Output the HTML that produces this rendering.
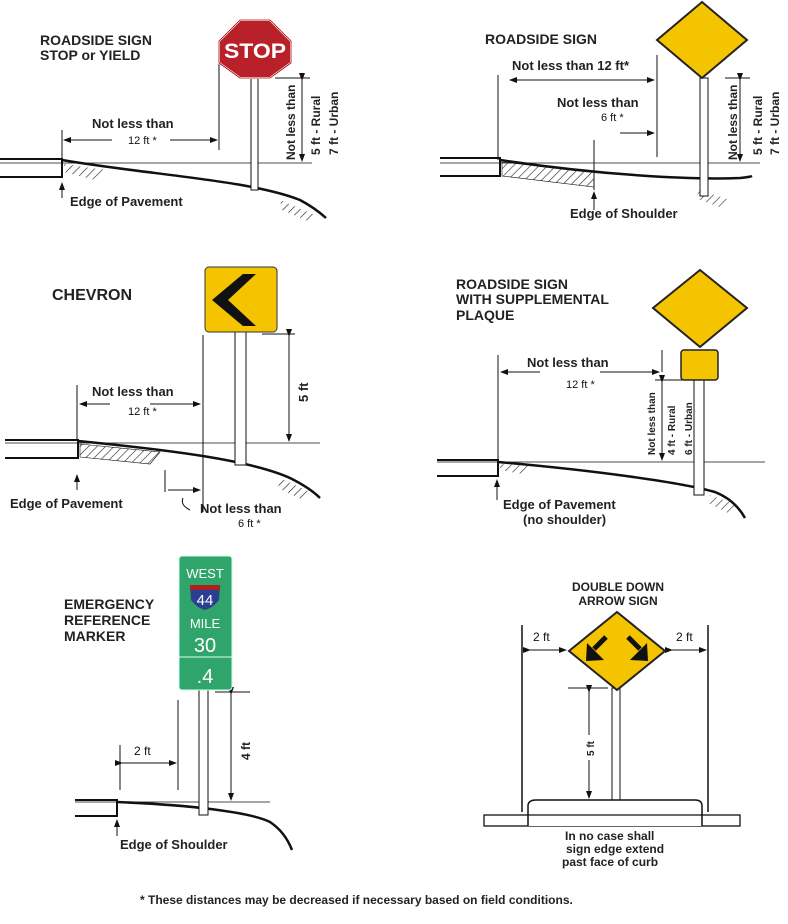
<!DOCTYPE html>
<html><head><meta charset="utf-8"><style>
html,body{margin:0;padding:0;background:#fff;}
svg{display:block;}
.t{font-family:"Liberation Sans",Arial,sans-serif;font-weight:bold;fill:#222;}
.n{font-family:"Liberation Sans",Arial,sans-serif;fill:#111;}
</style></head><body>
<svg width="788" height="924" viewBox="0 0 788 924" xmlns="http://www.w3.org/2000/svg">
<defs>
<marker id="a" markerWidth="8" markerHeight="6" refX="7" refY="3" orient="auto"><path d="M0,0 L8,3 L0,6 z" fill="#111"/></marker>
<pattern id="h" width="6" height="6" patternUnits="userSpaceOnUse" patternTransform="rotate(45)"><line x1="0" y1="0" x2="0" y2="6" stroke="#222" stroke-width="1.2"/></pattern>
</defs>
<g stroke="#111" fill="none" stroke-width="1">

<!-- PANEL 1 -->
<line x1="0" y1="163" x2="312" y2="163" stroke-width="0.8"/>
<path d="M0,159 L62,159 L62,177 L0,177" stroke-width="2"/>
<path d="M62,160 C150,175 250,180 300,200 Q315,208 326,218" stroke-width="2.5"/>
<path d="M64,164 L105,170 L95,180 L64,172z" fill="url(#h)" stroke="none"/>
<path d="M280,200 L315,215 L310,222 L282,210z" fill="url(#h)" stroke="none"/>
<line x1="62" y1="130" x2="62" y2="160"/>
<line x1="219" y1="63" x2="219" y2="150"/>
<line x1="112" y1="140" x2="64" y2="140" marker-end="url(#a)"/>
<line x1="170" y1="140" x2="217" y2="140" marker-end="url(#a)"/>
<rect x="251" y="78" width="7" height="112" fill="#fff"/>
<line x1="275" y1="78" x2="310" y2="78"/>
<line x1="302" y1="80" x2="302" y2="161" marker-start="url(#a)" marker-end="url(#a)"/>
<line x1="62" y1="198" x2="62" y2="183" marker-end="url(#a)"/>

<!-- PANEL 2 -->
<line x1="440" y1="163" x2="760" y2="163" stroke-width="0.8"/>
<path d="M440,158 L500,158 L500,176 L440,176" stroke-width="2"/>
<path d="M500,160 C600,175 690,180 740,178 Q750,177 752,176" stroke-width="2.5"/>
<path d="M502,162 L594,172 L594,187 L502,176z" fill="url(#h)" stroke="#111" stroke-width="0.6"/>
<path d="M700,190 L730,200 L722,208 L695,198z" fill="url(#h)" stroke="none"/>
<line x1="498" y1="75" x2="498" y2="160"/>
<line x1="657" y1="55" x2="657" y2="157"/>
<line x1="594" y1="140" x2="594" y2="190"/>
<line x1="600" y1="80" x2="510" y2="80" marker-end="url(#a)"/>
<line x1="600" y1="80" x2="654" y2="80" marker-end="url(#a)"/>
<line x1="620" y1="133" x2="654" y2="133" marker-end="url(#a)"/>
<rect x="700" y="78" width="8" height="118" fill="#fff"/>
<line x1="725" y1="78" x2="750" y2="78"/>
<line x1="740" y1="80" x2="740" y2="161" marker-start="url(#a)" marker-end="url(#a)"/>
<line x1="594" y1="210" x2="594" y2="192" marker-end="url(#a)"/>

<!-- PANEL 3 -->
<line x1="5" y1="443" x2="320" y2="443" stroke-width="0.8"/>
<path d="M5,440 L78,440 L78,458 L5,458" stroke-width="2"/>
<path d="M78,441 C170,450 250,460 290,478 Q310,488 320,498" stroke-width="2.5"/>
<path d="M80,444 L160,452 L150,464 L80,457z" fill="url(#h)" stroke="#111" stroke-width="0.6"/>
<path d="M280,478 L310,492 L303,500 L278,488z" fill="url(#h)" stroke="none"/>
<line x1="77" y1="385" x2="77" y2="440"/>
<line x1="203" y1="335" x2="203" y2="512"/>
<line x1="110" y1="404" x2="80" y2="404" marker-end="url(#a)"/>
<line x1="150" y1="404" x2="200" y2="404" marker-end="url(#a)"/>
<rect x="235" y="332" width="11" height="133" fill="#fff"/>
<line x1="262" y1="334" x2="295" y2="334"/>
<line x1="289" y1="336" x2="289" y2="441" marker-start="url(#a)" marker-end="url(#a)"/>
<line x1="165" y1="470" x2="165" y2="492"/>
<line x1="168" y1="490" x2="200" y2="490" marker-end="url(#a)"/>
<line x1="77" y1="490" x2="77" y2="475" marker-end="url(#a)"/>
<path d="M190,510 Q180,505 183,498" />

<!-- PANEL 4 -->
<line x1="437" y1="462" x2="765" y2="462" stroke-width="0.8"/>
<path d="M437,460 L498,460 L498,476 L437,476" stroke-width="2"/>
<path d="M498,462 C590,470 680,482 715,492 Q735,500 745,518" stroke-width="2.5"/>
<path d="M500,464 L530,466 L522,474 L500,470z" fill="url(#h)" stroke="none"/>
<path d="M710,495 L738,505 L732,515 L708,503z" fill="url(#h)" stroke="none"/>
<line x1="498" y1="355" x2="498" y2="460"/>
<line x1="662" y1="350" x2="662" y2="372"/>
<line x1="540" y1="372" x2="501" y2="372" marker-end="url(#a)"/>
<line x1="600" y1="372" x2="659" y2="372" marker-end="url(#a)"/>
<rect x="694" y="380" width="10" height="115" fill="#fff"/>
<line x1="655" y1="380" x2="690" y2="380"/>
<line x1="662" y1="382" x2="662" y2="460" marker-start="url(#a)" marker-end="url(#a)"/>
<line x1="497" y1="500" x2="497" y2="480" marker-end="url(#a)"/>

<!-- PANEL 5 -->
<line x1="75" y1="802" x2="270" y2="802" stroke-width="0.8"/>
<path d="M75,800 L117,800 L117,816 L75,816" stroke-width="2"/>
<path d="M117,802 C190,805 250,812 270,822 Q285,832 292,850" stroke-width="2.5"/>
<line x1="120" y1="745" x2="120" y2="790"/>
<line x1="178" y1="700" x2="178" y2="790"/>
<line x1="122" y1="763" x2="176" y2="763" marker-start="url(#a)" marker-end="url(#a)"/>
<rect x="199" y="690" width="9" height="125" fill="#fff"/>
<line x1="215" y1="692" x2="250" y2="692"/>
<line x1="231" y1="694" x2="231" y2="800" marker-start="url(#a)" marker-end="url(#a)"/>
<line x1="117" y1="836" x2="117" y2="820" marker-end="url(#a)"/>

<!-- PANEL 6 -->
<line x1="522" y1="625" x2="522" y2="812" stroke-width="1.5"/>
<line x1="708" y1="625" x2="708" y2="812" stroke-width="1.5"/>
<line x1="530" y1="650" x2="566" y2="650" marker-start="url(#a)" marker-end="url(#a)"/>
<line x1="672" y1="650" x2="706" y2="650" marker-start="url(#a)" marker-end="url(#a)"/>
<rect x="612" y="688" width="8" height="112" fill="#fff"/>
<line x1="568" y1="688" x2="608" y2="688"/>
<line x1="589" y1="692" x2="589" y2="735" marker-start="url(#a)"/>
<line x1="589" y1="760" x2="589" y2="798" marker-end="url(#a)"/>
<rect x="484" y="815" width="256" height="11" stroke-width="1.3"/>
<path d="M528,826 L528,806 Q528,800 536,800 L695,800 Q702,800 702,806 L702,826" fill="#fff" stroke-width="1.5"/>
<line x1="528" y1="815" x2="702" y2="815" stroke-width="1.2"/>
</g>

<!-- signs -->
<polygon points="240,20 270,20 291,41 291,63 270,78 240,78 219,63 219,41" fill="#b8202a" stroke="#fff" stroke-width="2"/>
<polygon points="240,20 270,20 291,41 291,63 270,78 240,78 219,63 219,41" fill="none" stroke="#a00" stroke-width="0.8"/>
<text x="255" y="58" class="n" font-size="21" font-weight="bold" text-anchor="middle" style="fill:#fff" textLength="62" lengthAdjust="spacingAndGlyphs">STOP</text>

<polygon points="702,2 747,40 702,78 657,40" fill="#f5c400" stroke="#222" stroke-width="2"/>
<rect x="205" y="267" width="72" height="65" rx="4" fill="#f5c400" stroke="#333" stroke-width="1"/>
<polygon points="243,274 256,274 228,300 256,326 243,326 212,300" fill="#111"/>
<polygon points="700,270 747,308 700,347 653,308" fill="#f5c400" stroke="#222" stroke-width="2"/>
<rect x="681" y="350" width="37" height="30" rx="3" fill="#f5c400" stroke="#222" stroke-width="1.5"/>

<rect x="179" y="556" width="53" height="134" rx="3" fill="#2fa56b" stroke="#cfe" stroke-width="1"/>
<line x1="179" y1="657" x2="232" y2="657" stroke="#dfe" stroke-width="1"/>
<text x="205" y="578" class="n" font-size="13" text-anchor="middle" style="fill:#fff">WEST</text>
<path d="M190,585 L220,585 L219,600 Q213,608 205,610 Q197,608 191,600z" fill="#2a3f8f"/>
<rect x="190" y="585" width="30" height="5" fill="#b02020"/>
<text x="205" y="605" class="n" font-size="15" text-anchor="middle" style="fill:#fff">44</text>
<text x="205" y="628" class="n" font-size="13" text-anchor="middle" style="fill:#fff">MILE</text>
<text x="205" y="652" class="n" font-size="20" text-anchor="middle" style="fill:#fff">30</text>
<text x="205" y="683" class="n" font-size="20" text-anchor="middle" style="fill:#fff">.4</text>

<polygon points="617,612 665,651 617,690 569,651" fill="#f5c400" stroke="#222" stroke-width="2"/>
<path d="M606,637 L594,649" stroke="#111" stroke-width="5"/>
<path d="M586,661 L587,643 L604,660z" fill="#111"/>
<path d="M628,637 L640,649" stroke="#111" stroke-width="5"/>
<path d="M648,661 L647,643 L630,660z" fill="#111"/>

<!-- text -->
<g class="t" font-size="14">
<text x="40" y="45">ROADSIDE SIGN</text>
<text x="40" y="60">STOP or YIELD</text>
<text x="92" y="128" font-size="13">Not less than</text>
<text x="70" y="206" font-size="13">Edge of Pavement</text>
<text x="485" y="44">ROADSIDE SIGN</text>
<text x="512" y="70" font-size="13">Not less than 12 ft*</text>
<text x="557" y="107" font-size="13">Not less than</text>
<text x="570" y="218" font-size="13">Edge of Shoulder</text>
<text x="52" y="300" font-size="16">CHEVRON</text>
<text x="92" y="396" font-size="13">Not less than</text>
<text x="10" y="508" font-size="13">Edge of Pavement</text>
<text x="200" y="513" font-size="13">Not less than</text>
<text x="456" y="289">ROADSIDE SIGN</text>
<text x="456" y="304">WITH SUPPLEMENTAL</text>
<text x="456" y="320">PLAQUE</text>
<text x="527" y="367" font-size="13">Not less than</text>
<text x="503" y="509" font-size="13">Edge of Pavement</text>
<text x="523" y="524" font-size="13">(no shoulder)</text>
<text x="64" y="609">EMERGENCY</text>
<text x="64" y="625">REFERENCE</text>
<text x="64" y="641">MARKER</text>
<text x="120" y="849" font-size="13">Edge of Shoulder</text>
<text x="618" y="591" font-size="12" text-anchor="middle">DOUBLE DOWN</text>
<text x="618" y="605" font-size="12" text-anchor="middle">ARROW SIGN</text>
<text x="565" y="840" font-size="12">In no case shall</text>
<text x="566" y="853" font-size="12">sign edge extend</text>
<text x="562" y="866" font-size="12">past face of curb</text>
<text x="140" y="904" font-size="12">* These distances may be decreased if necessary based on field conditions.</text>
</g>
<g class="n" font-size="11">
<text x="128" y="144">12 ft *</text>
<text x="601" y="121">6 ft *</text>
<text x="128" y="415">12 ft *</text>
<text x="238" y="527">6 ft *</text>
<text x="566" y="388">12 ft *</text>
<text x="134" y="755" font-size="12">2 ft</text>
<text x="533" y="641" font-size="12">2 ft</text>
<text x="676" y="641" font-size="12">2 ft</text>
</g>
<g class="t" font-size="12">
<text transform="translate(295,160) rotate(-90)">Not less than</text>
<text transform="translate(320,155) rotate(-90)">5 ft - Rural</text>
<text transform="translate(338,155) rotate(-90)">7 ft - Urban</text>
<text transform="translate(737,160) rotate(-90)">Not less than</text>
<text transform="translate(762,155) rotate(-90)">5 ft - Rural</text>
<text transform="translate(779,155) rotate(-90)">7 ft - Urban</text>
<text transform="translate(308,402) rotate(-90)" font-size="13">5 ft</text>
<text transform="translate(655,455) rotate(-90)" font-size="10">Not less than</text>
<text transform="translate(675,455) rotate(-90)" font-size="10">4 ft - Rural</text>
<text transform="translate(692,455) rotate(-90)" font-size="10">6 ft - Urban</text>
<text transform="translate(250,760) rotate(-90)">4 ft</text>
<text transform="translate(594,756) rotate(-90)" font-size="10">5 ft</text>
</g>
</svg>
</body></html>
